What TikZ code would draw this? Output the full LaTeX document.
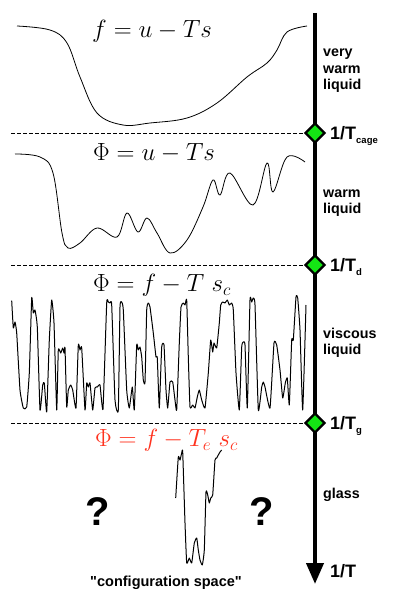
\documentclass[tikz,border=0pt]{standalone}
\usepackage{fontspec}
\setsansfont{Liberation Sans}
\newfontfamily\plainsans{Liberation Sans}
\usetikzlibrary{arrows.meta,calc}
\definecolor{dgreen}{RGB}{20,230,20}
\definecolor{fred}{RGB}{255,50,30}
\begin{document}
\begin{tikzpicture}[x=1pt,y=-1pt,
  curve/.style={black,line width=0.8pt,line join=round},
  spiky/.style={black,line width=1pt,line join=round},
  sep/.style={dashed,line width=0.6pt,dash pattern=on 3.5pt off 2.5pt},
  phase/.style={font=\sffamily\bfseries\fontsize{14.3}{16.5}\selectfont,anchor=base west,inner sep=0pt},
  tlab/.style={font=\sffamily\bfseries\fontsize{18}{20}\selectfont,anchor=base west,inner sep=0pt},
  formula/.style={font=\fontsize{24.5}{26}\selectfont,anchor=base west,inner sep=0pt},
  qmark/.style={font=\sffamily\bfseries\fontsize{40}{42}\selectfont,inner sep=0pt},
  tmark/.style={line width=2.4pt,fill=dgreen,line join=miter},
]
\useasboundingbox (0,0) rectangle (395,599);
% axis
\coordinate (top) at (315,13);
\coordinate (bot) at (315,584);
\draw[line width=4pt,-{Triangle[width=17pt,length=21pt]}] (top) -- (bot);
% markers
\foreach \n/\y in {mc/133,md/265,mg/423}{
  \coordinate (\n) at (315,\y);
  \draw[tmark] ($(\n)+(-9.5,0)$) -- ($(\n)+(0,-9.5)$) -- ($(\n)+(9.5,0)$) -- ($(\n)+(0,9.5)$) -- cycle;
  \coordinate (\n l) at (11,\y);
  \coordinate (\n r) at (305,\y);
  \draw[sep] (\n l) -- (\n r);
}
% labels
\node[tlab] (lc) at (330,139.5) {1/T\raisebox{-3.5pt}{\fontsize{9.5}{10}\selectfont cage}};
\node[tlab] (ld) at (330,271.5) {1/T\raisebox{-3.5pt}{\fontsize{9.5}{10}\selectfont d}};
\node[tlab] (lg) at (330,429.5) {1/T\raisebox{-3.5pt}{\fontsize{9.5}{10}\selectfont g}};
\node[tlab] (lt) at (330,577) {1/T};
\node[phase] (p1a) at (323,57) {very};
\node[phase] (p1b) at (323,73.5) {warm};
\node[phase] (p1c) at (323,90) {liquid};
\node[phase] (p2a) at (323,197) {warm};
\node[phase] (p2b) at (323,213.5) {liquid};
\node[phase] (p3a) at (323,338) {viscous};
\node[phase] (p3b) at (323,354.5) {liquid};
\node[phase] (p4a) at (323,498) {glass};
% formulas
\node[formula] (f1) at (92,38) {$f=u-Ts$};
\node[formula] (f2) at (93,160.5) {$\Phi=u-Ts$};
\node[formula] (f3) at (93,291.5) {$\Phi=f-T\ s_c$};
\node[formula,text=fred] (f4) at (95,446.5) {$\Phi=f-T_e\ s_c$};
\node[qmark] (q1) at (98,512) {?};
\node[qmark] (q2) at (262,512) {?};
\node[font=\plainsans\bfseries\fontsize{14.5}{16}\selectfont,inner sep=0pt,anchor=base] (cs) at (166,586) {"configuration space"};
% curve 1
\draw[curve] plot[smooth,tension=0.6] coordinates {(17,26) (50,30) (67,43) (80,77) (97,113) (123,125) (150,123) (187,118) (217,103) (247,77) (267,63) (277,50) (287,32) (307,26)};
% curve 2
\draw[curve] plot[smooth,tension=0.6] coordinates {(15,154) (40,157) (53,173) (62,233) (68,248) (80,243) (97,228) (117,237) (127,213) (138,232) (147,218) (157,233) (170,253) (187,240) (203,207) (213,180) (220,195) (230,173) (253,205) (267,163) (273,192) (287,157) (305,162)};
% curve 3
\draw[spiky] plot[smooth,tension=0.25] coordinates {(11.7,300.7) (13.3,328) (15,322) (16.7,333) (20,390) (23.3,408) (26.7,407) (29.3,373) (31.7,298) (33.3,313) (35,310) (37.3,327) (40,410) (42.7,385) (44.3,383) (46.7,412) (49.3,340) (51.7,300) (54,323) (56.7,410) (58.3,350) (60.7,353) (62.7,348) (64,353) (65,348) (66.7,407) (68.3,390) (70.7,385) (72.7,390) (76,408) (78.3,345) (80,350) (81.7,348) (85,410) (86.7,383) (88.3,387) (90,383) (92.7,410) (95,388) (97.3,387) (100,385) (103,409) (106.7,303) (108.3,302) (110,303) (111.7,305) (115,400) (118.3,410) (120,307) (121.7,302) (123.3,310) (126.7,390) (129.3,408) (132.3,387) (134.3,410) (136.7,345) (138.3,350) (140,347) (141.7,357) (143.3,380) (145,382) (146.7,310) (148.3,303) (150,307) (153.3,333) (156,357) (157.3,358) (159.3,408) (161.7,347) (164,345) (166,390) (167.7,408) (170,382) (172.7,382) (175,400) (176.7,410) (179.3,343) (181,307) (183.3,303) (185,305) (186.7,300) (188.3,357) (190,407) (192.7,405) (195,408) (197.3,397) (199.3,390) (201.7,400) (205,408) (208.3,373) (210.7,340) (212.7,352) (214,343) (216.7,348) (219.3,323) (220.7,305) (222.7,302) (225,303) (227.3,300) (229.3,305) (231.7,303) (233.3,310) (236,373) (239.3,410) (241.7,347) (243.3,342) (245,345) (247.3,408) (250,300) (251.7,302) (253.3,298) (255,305) (258.3,410) (261.7,387) (263.3,382) (265,387) (270,408) (274,343) (276.7,345) (280,370) (282.7,398) (285.3,383) (287.3,378) (289.3,405) (291.7,340) (293.3,340) (296,297) (297.7,298) (300,330) (302.7,410) (306,305)};
% curve 4
\draw[spiky] plot[smooth,tension=0.25] coordinates {(175.7,498) (178.3,457) (180,460) (181.7,453) (182.7,452) (185,523) (186.7,563) (189.3,558) (191.7,563) (194.3,543) (196.7,538) (198.3,550) (200,560) (202.3,565) (204.3,550) (206,492) (207.7,495) (209.3,503) (210.7,498) (212.7,495) (215,460) (216.7,458) (218.3,455) (220,452) (221.7,450)};
\end{tikzpicture}
\end{document}
